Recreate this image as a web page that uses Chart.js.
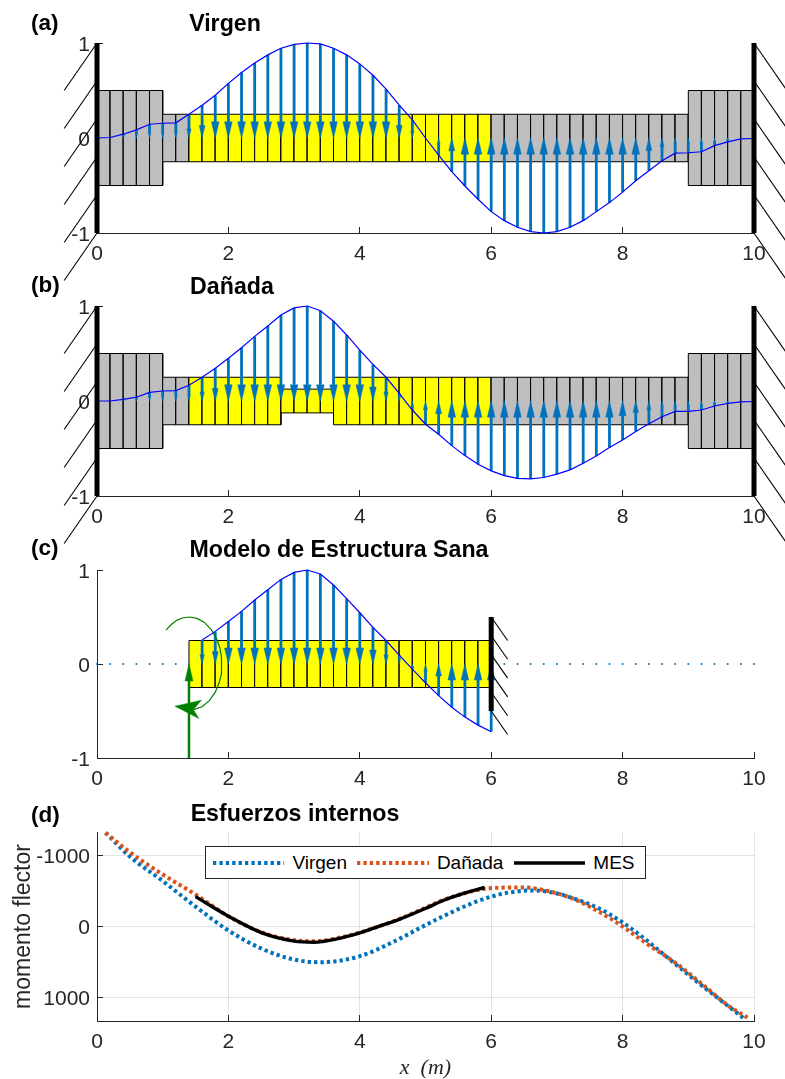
<!DOCTYPE html>
<html>
<head>
<meta charset="utf-8">
<title>Modos y esfuerzos internos</title>
<script src="https://cdn.jsdelivr.net/npm/chart.js@4/dist/chart.umd.js"></script>
<style>
    html, body { margin: 0; padding: 0; background: #fff; }
    body { position: relative; width: 785px; height: 1079px; overflow: hidden; font-family: "Liberation Sans", sans-serif; }
    canvas { position: absolute; left: 0; }
    .title { position: absolute; z-index: 5; font-weight: bold; font-size: 23.2px; line-height: 1; color: #000; white-space: nowrap; transform: translateX(-50%); }
    .tag { position: absolute; z-index: 5; left: 31px; font-weight: bold; font-size: 22.5px; line-height: 1; color: #000; }
    #legend { position: absolute; z-index: 5; left: 205px; top: 846px; width: 441px; height: 33px; box-sizing: border-box; border: 1px solid #262626; background: #fff; display: flex; align-items: center; padding-left: 7px; font-size: 19px; color: #000; }
    #legend svg { display: block; margin-right: 8px; }
    #legend span { margin-right: 10.5px; }
</style>
</head>
<body>
<div class="tag" style="top:12px">(a)</div>
<div class="title" style="left:225px;top:12px">Virgen</div>
<div class="tag" style="top:274px">(b)</div>
<div class="title" style="left:232px;top:275px">Dañada</div>
<div class="tag" style="top:537px">(c)</div>
<div class="title" style="left:339px;top:538px">Modelo de Estructura Sana</div>
<div class="tag" style="top:804px">(d)</div>
<div class="title" style="left:295px;top:802px">Esfuerzos internos</div>
<div id="legend"></div>
<canvas id="panelA" width="785" height="290" style="top:0"></canvas>
<canvas id="panelB" width="785" height="290" style="top:270px"></canvas>
<canvas id="panelC" width="785" height="270" style="top:530px"></canvas>
<canvas id="panelD" width="785" height="289" style="top:790px"></canvas>
<script>
// mesh of the beam
const nodes = [0, 0.2, 0.4, 0.6, 0.8, 1, 1.2, 1.4, 1.6, 1.8, 2, 2.2, 2.4, 2.6, 2.8, 3, 3.2, 3.4, 3.6, 3.8, 4, 4.2, 4.4, 4.6, 4.8, 5,
    5.2, 5.4, 5.6, 5.8, 6, 6.2, 6.4, 6.6, 6.8, 7, 7.2, 7.4, 7.6, 7.8, 8, 8.2, 8.4, 8.6, 8.8, 9, 9.2, 9.4, 9.6, 9.8, 10];

// half depth of each element, per node on its left
const depthVirgen = [0.5, 0.5, 0.5, 0.5, 0.5, 0.25, 0.25, 0.25, 0.25, 0.25, 0.25, 0.25, 0.25, 0.25, 0.25, 0.25, 0.25, 0.25, 0.25, 0.25, 0.25, 0.25, 0.25, 0.25, 0.25,
    0.25, 0.25, 0.25, 0.25, 0.25, 0.25, 0.25, 0.25, 0.25, 0.25, 0.25, 0.25, 0.25, 0.25, 0.25, 0.25, 0.25, 0.25, 0.25, 0.25, 0.5, 0.5, 0.5, 0.5, 0.5];
const depthDanada = [0.5, 0.5, 0.5, 0.5, 0.5, 0.25, 0.25, 0.25, 0.25, 0.25, 0.25, 0.25, 0.25, 0.25, 0.125, 0.125, 0.125, 0.125, 0.25, 0.25, 0.25, 0.25, 0.25, 0.25, 0.25,
    0.25, 0.25, 0.25, 0.25, 0.25, 0.25, 0.25, 0.25, 0.25, 0.25, 0.25, 0.25, 0.25, 0.25, 0.25, 0.25, 0.25, 0.25, 0.25, 0.25, 0.5, 0.5, 0.5, 0.5, 0.5];
const sanaStart = 1.4;
const sanaEnd = 6;

// mode shapes read at each node
const modeVirgen = [0, 0.005, 0.04, 0.085, 0.145, 0.155, 0.16, 0.25, 0.345, 0.45, 0.575, 0.69, 0.79, 0.875, 0.945, 0.985, 1, 0.99, 0.945, 0.875, 0.78, 0.66, 0.515, 0.345, 0.19, 0,
    -0.18, -0.355, -0.505, -0.645, -0.775, -0.87, -0.94, -0.985, -1, -0.985, -0.94, -0.87, -0.775, -0.68, -0.57, -0.45, -0.345, -0.24, -0.16, -0.155, -0.145, -0.08, -0.04, -0.01, -0.005];
const modeDanada = [0, 0, 0.017, 0.04, 0.09, 0.105, 0.11, 0.165, 0.25, 0.345, 0.45, 0.56, 0.68, 0.79, 0.905, 0.98, 1, 0.95, 0.84, 0.695, 0.535, 0.385, 0.25, 0.08, -0.095, -0.245,
    -0.35, -0.47, -0.575, -0.665, -0.735, -0.785, -0.815, -0.82, -0.805, -0.77, -0.725, -0.655, -0.58, -0.49, -0.41, -0.32, -0.24, -0.165, -0.11, -0.11, -0.095, -0.053, -0.025, -0.01, -0.005];
const modeSana = [0, 0, 0, 0, 0, 0, 0, 0, 0.256, 0.347, 0.453, 0.56, 0.68, 0.79, 0.9, 0.975, 1, 0.957, 0.84, 0.695, 0.545, 0.39, 0.25, 0.095, -0.055, -0.2,
    -0.337, -0.46, -0.565, -0.65, -0.72, 0, 0, 0, 0, 0, 0, 0, 0, 0, 0, 0, 0, 0, 0, 0, 0, 0, 0, 0, 0];

// arc and force at the free end of the healthy model
const momentArc = [[1.05, 0.36], [1.13, 0.42], [1.22, 0.467], [1.31, 0.492], [1.41, 0.5], [1.52, 0.485], [1.63, 0.445], [1.74, 0.365], [1.82, 0.27], [1.87, 0.17],
    [1.895, 0.07], [1.9, 0], [1.89, -0.1], [1.86, -0.2], [1.8, -0.3], [1.71, -0.39], [1.6, -0.455], [1.47, -0.485]];
const momentHead = [[1.187, -0.449], [1.59, -0.386], [1.466, -0.484], [1.55, -0.58]];
const forceShaft = [[1.4, -1], [1.4, -0.1]];
const forceHead = [[1.4, 0], [1.34, -0.18], [1.46, -0.18]];

// bending moment along the beam
const seriesNames = ['Virgen', 'Dañada', 'MES'];
const virgenX = [0.13, 0.5, 1, 1.5, 2, 2.5, 3, 3.4, 4, 4.5, 5, 5.27, 5.7, 6, 6.3, 6.65, 7, 7.3, 7.65, 8, 8.35, 8.7, 9.15, 9.6, 9.87];
const virgenM = [-1320, -985, -640, -280, 56, 310, 465, 503, 418, 221, -20, -145, -324, -420, -483, -507, -465, -380, -250, -56, 183, 450, 790, 1115, 1310];
const danadaX = [0.13, 0.5, 1, 1.5, 2, 2.5, 3, 3.3, 3.65, 4, 4.3, 4.6, 5, 5.27, 5.58, 5.9, 6.2, 6.5, 6.8, 7.2, 7.6, 8, 8.4, 8.8, 9.2, 9.6, 9.9];
const danadaM = [-1320, -1045, -732, -450, -145, 80, 193, 207, 165, 85, -5, -105, -265, -372, -465, -530, -548, -550, -512, -408, -230, 0, 263, 507, 803, 1108, 1282];
const mesX = [1.5, 2, 2.5, 3, 3.3, 3.65, 4, 4.3, 4.6, 5, 5.27, 5.58, 5.9];
const mesM = [-420, -145, 85, 205, 221, 175, 90, -5, -100, -254, -366, -465, -549];

const momentTicks = [-1000, 0, 1000];

const BLUE = '#0072BD';
const ORANGE = '#D95319';
const GREEN = '#008000';
const GRAY = '#BEBEBE';
const YELLOW = '#FFFF00';
const INK = '#262626';
const TICK_FONT = { family: '"Liberation Sans", sans-serif', size: 21 };

const toPoints = (pairs) => pairs.map(p => ({ x: p[0], y: p[1] }));

const line = (pairs, color, width, extra) => Object.assign({
    data: toPoints(pairs),
    showLine: true,
    borderColor: color,
    borderWidth: width,
    pointRadius: 0,
    clip: false
}, extra);

const polygon = (pairs, fillColor, edgeColor, edgeWidth) => line(pairs.concat([pairs[0]]), edgeColor, edgeWidth, {
    fill: 'shape',
    backgroundColor: fillColor
});

// one rectangle per element
const beam = (depth, first, last, colorAt) => {
    const out = [];
    for (let i = 0; i < nodes.length - 1; i++) {
        const x0 = nodes[i], x1 = nodes[i + 1];
        if (x0 < first - 1e-6 || x1 > last + 1e-6) continue;
        out.push(polygon([[x0, depth[i]], [x1, depth[i]], [x1, -depth[i]], [x0, -depth[i]]], colorAt(x0), '#000', 1));
    }
    return out;
};

const inSana = (x) => x >= sanaStart - 1e-6 && x < sanaEnd - 1e-6;
const beamColor = (x) => inSana(x) ? YELLOW : GRAY;

// quiver: shaft from the curve to the axis, head ends on the axis
const arrows = (mode) => {
    const out = [];
    nodes.forEach((x, i) => {
        const v = mode[i];
        if (v === 0) return;
        const headLen = Math.min(0.17, 0.38 * Math.abs(v));
        const halfW = headLen * 0.34;
        const base = v > 0 ? headLen : -headLen;
        out.push(line([[x, v], [x, base]], BLUE, 2.8));
        out.push(polygon([[x, 0], [x - halfW, base], [x + halfW, base]], BLUE, BLUE, 0.5));
    });
    return out;
};

const wall = (x, top, bottom, step, dx, dy) => {
    const out = [];
    for (let y = top; y >= bottom - 1e-6; y -= step) {
        out.push(line([[x, y], [x + dx, y - dy]], '#000', 1.1));
    }
    out.push(line([[x, top], [x, bottom]], '#000', 5));
    return out;
};

const plainLabel = (v) => String(v);

const axes = (yMin, yMax, extraY, extraX, grid) => ({
    x: Object.assign({
        type: 'linear',
        min: 0,
        max: 10,
        border: { color: INK, width: 1 },
        grid: { drawOnChartArea: !!grid, tickLength: -6, tickColor: INK, color: 'rgba(38,38,38,0.13)', lineWidth: 1 },
        ticks: { stepSize: 2, color: INK, font: TICK_FONT, padding: 15, maxRotation: 0, autoSkip: false, includeBounds: false }
    }, extraX),
    y: Object.assign({
        min: yMin,
        max: yMax,
        border: { color: INK, width: 1 },
        grid: { drawOnChartArea: !!grid, tickLength: -6, tickColor: INK, color: 'rgba(38,38,38,0.13)', lineWidth: 1 },
        ticks: { stepSize: 1, color: INK, font: TICK_FONT, padding: 13, autoSkip: false, labelOffset: 2, callback: plainLabel }
    }, extraY)
});

const makeChart = (id, datasets, plotTop, axisHeight, scales) => new Chart(document.getElementById(id), {
    type: 'scatter',
    data: { datasets: datasets.slice().reverse() }, // first one listed is painted last by Chart.js
    options: {
        responsive: false,
        animation: false,
        events: [],
        layout: { padding: { top: plotTop, right: 31, bottom: 0, left: 0 } },
        elements: { line: { tension: 0 } },
        plugins: { legend: { display: false }, tooltip: { enabled: false }, title: { display: false } },
        scales: (() => {
            scales.x.afterFit = (s) => { s.height = axisHeight; };
            scales.y.afterFit = (s) => { s.width = 97; };
            return scales;
        })()
    }
});

const curve = (mode) => line(nodes.map((x, i) => [x, mode[i]]), '#0000FF', 1.2);

const fullBeamPanel = (id, depth, mode, plotTop, axisHeight) => makeChart(id, [
    ...beam(depth, 0, 10, beamColor),
    ...arrows(mode),
    curve(mode),
    ...wall(0, 1, -1, 0.4, -0.5, 0.5),
    ...wall(10, 1, -1, 0.4, 0.5, 0.5)
], plotTop, axisHeight, axes(-1, 1));

fullBeamPanel('panelA', depthVirgen, modeVirgen, 43, 57);
fullBeamPanel('panelB', depthDanada, modeDanada, 36, 64);

const sanaCurve = nodes.map((x, i) => [x, modeSana[i]]).filter(p => p[1] !== 0);
const sanaDots = nodes.map((x, i) => [x, modeSana[i]]).filter(p => p[1] === 0);

makeChart('panelC', [
    ...beam(depthVirgen, sanaStart, sanaEnd, () => YELLOW),
    line(sanaDots, BLUE, 1, { showLine: false, pointRadius: 1, pointBackgroundColor: BLUE, pointBorderWidth: 0 }),
    ...arrows(modeSana),
    line(sanaCurve, '#0000FF', 1.2),
    ...wall(6, 0.5, -0.5, 0.2, 0.25, 0.25),
    line(forceShaft, GREEN, 2.5),
    polygon(forceHead, GREEN, GREEN, 0.5),
    line(momentArc, GREEN, 1.2),
    polygon(momentHead, GREEN, GREEN, 0.5)
], 40, 42, axes(-1, 1));

const zip = (xs, ys) => xs.map((x, i) => [x, ys[i]]);
const dotted = { borderDash: [3.3, 3.1], cubicInterpolationMode: 'monotone' };

makeChart('panelD', [
    line(zip(virgenX, virgenM), BLUE, 4, dotted),
    line(zip(danadaX, danadaM), ORANGE, 4, dotted),
    line(zip(mesX, mesM), '#000', 3.4, { cubicInterpolationMode: 'monotone' })
], 42, 58, axes(-1330, 1330, {
    reverse: true,
    afterBuildTicks: (s) => { s.ticks = momentTicks.map(v => ({ value: v })); },
    ticks: { color: INK, font: TICK_FONT, padding: 13, autoSkip: false, labelOffset: 2, callback: plainLabel },
    title: { display: true, text: 'momento flector', color: INK, font: { family: '"Liberation Sans", sans-serif', size: 23 }, padding: { top: 10, bottom: 0 } }
}, {
    title: { display: true, text: 'x  (m)', color: INK, font: { family: '"Liberation Serif", serif', style: 'italic', size: 22, lineHeight: 1 }, padding: { top: 0, bottom: 0 } }
}, true));

// legend of panel d
const legend = document.getElementById('legend');
const swatches = [
    { color: BLUE, width: 4, dash: '3.3 3.1' },
    { color: ORANGE, width: 4, dash: '3.3 3.1' },
    { color: '#000', width: 3.4, dash: 'none' }
];
seriesNames.forEach((name, i) => {
    const s = swatches[i];
    legend.insertAdjacentHTML('beforeend',
        `<svg width="72" height="10"><line x1="0" y1="5" x2="72" y2="5" stroke="${s.color}" stroke-width="${s.width}" stroke-dasharray="${s.dash}"/></svg><span>${name}</span>`);
});
</script>
</body>
</html>
